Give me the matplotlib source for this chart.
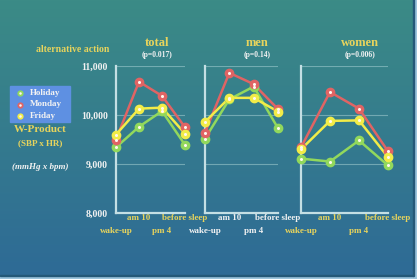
import numpy as np
import matplotlib.pyplot as plt
from matplotlib.patches import Rectangle

times = ["wake-up", "am 10", "pm 4", "before sleep"]
series = ["Holiday", "Monday", "Friday"]
colors = {"Holiday": "#92d85c", "Monday": "#e06464", "Friday": "#f2ec48"}

panels = ["total", "men", "women"]
pvals = ["(p=0.017)", "(p=0.14)", "(p=0.006)"]

total_holiday = [9340, 9760, 10080, 9390]
total_monday = [9500, 10680, 10390, 9750]
total_friday = [9600, 10130, 10150, 9620]

men_holiday = [9520, 10320, 10580, 9730]
men_monday = [9640, 10860, 10630, 10120]
men_friday = [9860, 10350, 10350, 10070]

women_holiday = [9110, 9050, 9480, 8970]
women_monday = [9340, 10470, 10130, 9260]
women_friday = [9300, 9880, 9890, 9140]

data = {
    "total": [total_holiday, total_monday, total_friday],
    "men": [men_holiday, men_monday, men_friday],
    "women": [women_holiday, women_monday, women_friday],
}

yticks = [8000, 9000, 10000, 11000]
ytick_labels = ["8,000", "9,000", "10,000", "11,000"]

YEL = "#e8d45c"
WHT = "#f2f2f2"
plt.rcParams['font.family'] = ['Liberation Serif', 'DejaVu Serif']
plt.rcParams['font.weight'] = 'bold'

W, H = 417, 279
fig = plt.figure(figsize=(W / 100, H / 100), dpi=100)

# background gradient
bg = fig.add_axes([0, 0, 1, 1], zorder=-10)
top = np.array([0x3b, 0x8b, 0x86]) / 255
bot = np.array([0x2e, 0x6a, 0x96]) / 255
t = np.linspace(0, 1, 256)[:, None]
grad = top * (1 - t) + bot * t
bg.imshow(grad[:, None, :].repeat(2, axis=1), aspect='auto', extent=[0, 1, 0, 1])
bg.set_xlim(0, 1)
bg.set_ylim(0, 1)
bg.axis('off')
# frame edges at bottom / right
bg.add_patch(Rectangle((0, 0), 1, 3 / H, color="#9cc4dc", zorder=2))
bg.add_patch(Rectangle((0, 3 / H), 1, 1.2 / H, color="#245878", zorder=2))
bg.add_patch(Rectangle((1 - 3 / W, 0), 3 / W, 1, color="#9cc4dc", zorder=2))
bg.add_patch(Rectangle((1 - 4.2 / W, 3 / H), 1.2 / W, 1, color="#245878", zorder=2))

def fx(px):
    return px / W

def fy(py):
    return 1 - py / H

# axes boxes in pixels: left, right
boxes = {"total": (116, 185), "men": (205, 278), "women": (301, 388)}
ytop, ybot = 66, 213
label_colors = {"total": YEL, "men": WHT, "women": YEL}
title_x = {"total": 157, "men": 257, "women": 360}

for i, name in enumerate(panels):
    l, r = boxes[name]
    ax = fig.add_axes([fx(l), fy(ybot), (r - l) / W, (ybot - ytop) / H])
    ax.patch.set_alpha(0)
    ax.set_xlim(0, 3)
    ax.set_ylim(8000, 11000)
    for g in [9000, 10000, 11000]:
        ax.axhline(g, color="#9cc8cc", lw=0.8, alpha=0.6, zorder=1)
    for s, vals in zip(series, data[name]):
        c = colors[s]
        ax.plot(range(4), vals, color=c, lw=1.8, zorder=3, clip_on=False)
        ax.plot(range(4), vals, 'o', ms=6, mfc=c, mec=c, zorder=4, clip_on=False)
        ax.plot(range(4), vals, 'o', ms=2.2, mfc="#fff8f0", mec="none", zorder=5, clip_on=False)
    for sp in ["top", "right"]:
        ax.spines[sp].set_visible(False)
    for sp in ["left", "bottom"]:
        ax.spines[sp].set_color("#c4dfe4")
        ax.spines[sp].set_linewidth(1.6)
        ax.spines[sp].set_zorder(2)
    ax.set_xticks([])
    ax.set_yticks(yticks)
    ax.tick_params(length=0, pad=6)
    if i == 0:
        ax.set_yticklabels(ytick_labels, fontsize=7, color=WHT, fontweight='bold')
    else:
        ax.set_yticklabels([])
    # two-row x labels
    for k, lab in enumerate(times):
        yy = fy(218) if k % 2 == 1 else fy(231)
        xx = fx(l) + k / 3 * (r - l) / W
        fig.text(xx, yy, lab, ha='center', va='center', fontsize=6.5,
                 color=label_colors[name], fontweight='bold')
    fig.text(fx(title_x[name]), fy(43), name, ha='center', va='center',
             fontsize=9, color=YEL, fontweight='bold')
    fig.text(fx(title_x[name]), fy(55), pvals[i], ha='center', va='center',
             fontsize=5.5, color=WHT, fontweight='bold')

fig.text(fx(73), fy(49), "alternative action", ha='center', va='center',
         fontsize=7, color=YEL, fontweight='bold')

# legend box
bg.add_patch(Rectangle((fx(10), fy(122)), fx(60), 36 / H, color="#5e90e2", zorder=3))
for k, s in enumerate(series):
    yy = fy(93 + k * 11.5)
    bg.plot(fx(20), yy, 'o', ms=4.5, mfc=colors[s], mec="none", zorder=4)
    bg.plot(fx(20), yy, 'o', ms=1.8, mfc="#fff8f0", mec="none", zorder=5)
    fig.text(fx(30), yy, s, ha='left', va='center', fontsize=6.5, color=WHT, fontweight='bold')

fig.text(fx(40), fy(130), "W-Product", ha='center', va='center', fontsize=8, color=YEL, fontweight='bold')
fig.text(fx(40), fy(143), "(SBP x HR)", ha='center', va='center', fontsize=6.5, color=YEL, fontweight='bold')
fig.text(fx(40), fy(167), "(mmHg x bpm)", ha='center', va='center', fontsize=6.5, color=WHT,
         fontweight='bold', fontstyle='italic')

fig.savefig("out.png", dpi=100)
